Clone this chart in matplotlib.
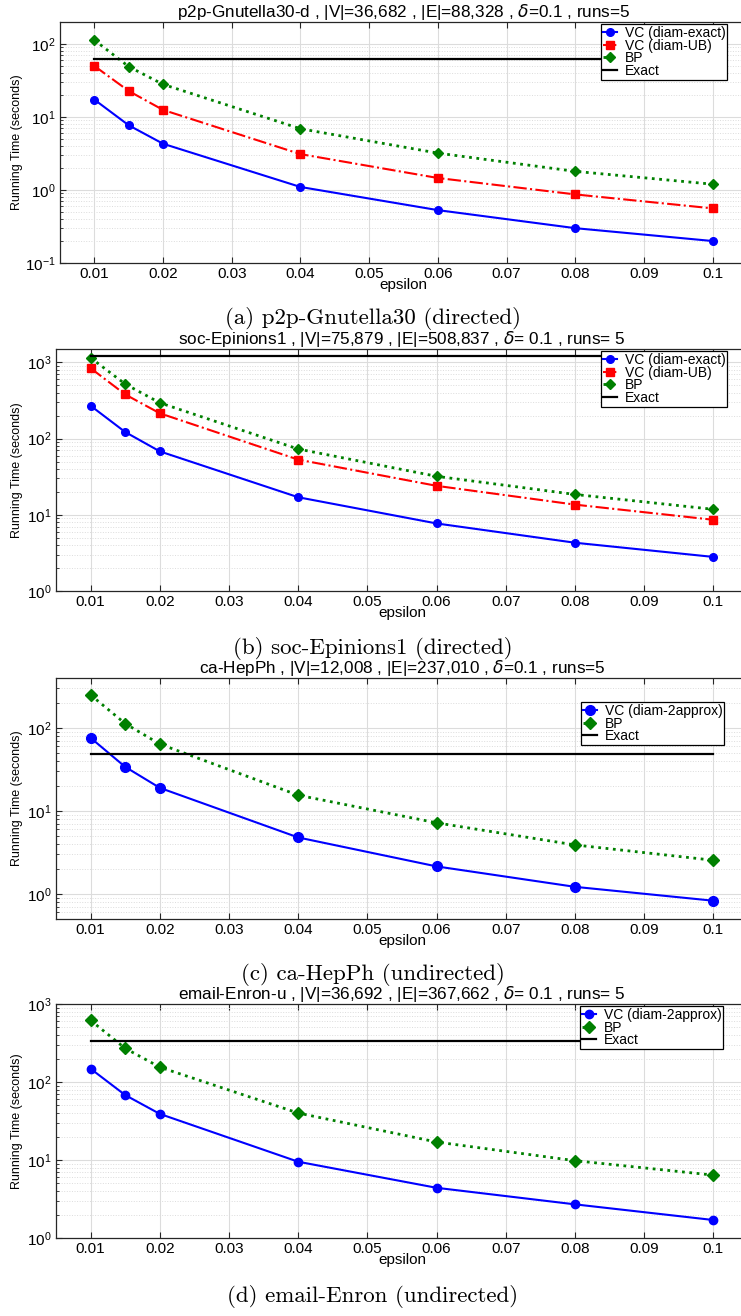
import matplotlib
matplotlib.use('Agg')
import matplotlib.pyplot as plt
from matplotlib.ticker import LogLocator, NullFormatter, FixedLocator, FixedFormatter

# ---------------- data ----------------
eps = [0.01, 0.015, 0.02, 0.04, 0.06, 0.08, 0.1]
xtick_vals = [0.01, 0.02, 0.03, 0.04, 0.05, 0.06, 0.07, 0.08, 0.09, 0.1]
xtick_labels = ['0.01', '0.02', '0.03', '0.04', '0.05', '0.06', '0.07', '0.08', '0.09', '0.1']

a_vc_exact = [17.3, 7.7, 4.3, 1.1, 0.53, 0.30, 0.20]
a_vc_ub = [50, 22.7, 12.5, 3.1, 1.46, 0.87, 0.56]
a_bp = [113, 49, 28, 6.9, 3.2, 1.8, 1.2]
a_exact = 62

b_vc_exact = [270, 122, 68, 17, 7.7, 4.3, 2.8]
b_vc_ub = [840, 380, 215, 53, 24, 13.6, 8.6]
b_bp = [1150, 520, 295, 73, 32, 18.5, 11.8]
b_exact = 1230

c_vc_2approx = [76, 34, 19, 4.8, 2.15, 1.22, 0.83]
c_bp = [250, 113, 64, 15.5, 7.2, 3.9, 2.55]
c_exact = 49

d_vc_2approx = [148, 68, 39, 9.5, 4.4, 2.7, 1.7]
d_bp = [617, 270, 155, 40, 17, 9.8, 6.4]
d_exact = 340

titles = [
    "p2p-Gnutella30-d , |V|=36,682 , |E|=88,328 , $\\delta$=0.1 , runs=5",
    "soc-Epinions1 , |V|=75,879 , |E|=508,837 , $\\delta$= 0.1 , runs= 5",
    "ca-HepPh , |V|=12,008 , |E|=237,010 , $\\delta$=0.1 , runs=5",
    "email-Enron-u , |V|=36,692 , |E|=367,662 , $\\delta$= 0.1 , runs= 5",
]
captions = [
    "(a) p2p-Gnutella30 (directed)",
    "(b) soc-Epinions1 (directed)",
    "(c) ca-HepPh (undirected)",
    "(d) email-Enron (undirected)",
]

# ---------------- style ----------------
plt.rcParams['font.family'] = ['Liberation Sans', 'DejaVu Sans']
plt.rcParams['mathtext.fontset'] = 'dejavusans'

W, H = 741, 1316
fig = plt.figure(figsize=(W / 100, H / 100), dpi=100)

BLUE = '#0000ff'
RED = '#ff0000'
GREEN = '#008000'
SPINE = '#262626'

# panel geometry in pixels: (left, right, top, bottom)
geom = [
    (60, 747, 22, 263),
    (56, 748, 349, 591),
    (56, 748, 678, 919),
    (56, 748, 1004, 1238),
]
ylims = [(0.1, 200), (1, 1500), (0.5, 400), (1, 1000)]
caption_y = [318, 649, 974, 1297]
legend_pos = [(601, 24), (601, 351), (581, 702), (580, 1006)]


def make_axes(i):
    l, r, t, b = geom[i]
    ax = fig.add_axes([l / W, 1 - b / H, (r - l) / W, (b - t) / H])
    ax.set_yscale('log')
    ax.set_xlim(0.005, 0.105)
    ax.set_ylim(*ylims[i])
    ax.xaxis.set_major_locator(FixedLocator(xtick_vals))
    ax.xaxis.set_major_formatter(FixedFormatter(xtick_labels))
    ax.yaxis.set_major_locator(LogLocator(base=10, numticks=10))
    ax.yaxis.set_minor_locator(LogLocator(base=10, subs=range(2, 10), numticks=10))
    ax.yaxis.set_minor_formatter(NullFormatter())
    ax.grid(True, which='major', color='#dcdcdc', lw=0.8, ls='-')
    ax.grid(True, which='minor', axis='y', color='#dcdcdc', lw=0.7, ls=':')
    ax.set_axisbelow(True)
    for s in ax.spines.values():
        s.set_color(SPINE)
        s.set_linewidth(0.9)
    ax.tick_params(which='both', direction='in', top=True, right=True,
                   color=SPINE, labelsize=11, pad=3)
    ax.tick_params(which='major', length=4)
    ax.tick_params(which='minor', length=2)
    ax.set_title(titles[i], fontsize=12.3, pad=3)
    ax.set_xlabel('epsilon', fontsize=11)
    ax.xaxis.label.set_va('center')
    ax.xaxis.set_label_coords(0.5, -22 / (b - t))
    ax.set_ylabel('Running Time (seconds)', fontsize=9)
    ax.yaxis.label.set_va('center')
    ax.yaxis.set_label_coords(-(l - 17) / (r - l), 0.5)
    fig.text(0.503, 1 - caption_y[i] / H, captions[i], family=['cmr10', 'DejaVu Serif'],
             fontsize=16.5, ha='center', va='center')
    return ax


def add_legend(ax, i):
    l, r, t, b = geom[i]
    lx, ly = legend_pos[i]
    leg = ax.legend(loc='upper left',
                    bbox_to_anchor=((lx - l) / (r - l), 1 - (ly - t) / (b - t)),
                    borderaxespad=0, fontsize=10, labelspacing=-0.1,
                    handlelength=1.0, handletextpad=0.55, borderpad=0.15,
                    fancybox=False, framealpha=1, edgecolor='black')
    leg.get_frame().set_linewidth(0.9)


# Panel (a)
ax = make_axes(0)
ax.plot(eps, a_vc_exact, '-', color=BLUE, lw=1.5, marker='o', ms=5.5, label='VC (diam-exact)')
ax.plot(eps, a_vc_ub, '-.', color=RED, lw=1.5, marker='s', ms=5.5, label='VC (diam-UB)')
ax.plot(eps, a_bp, ':', color=GREEN, lw=2, marker='D', ms=5.5, label='BP')
ax.plot([eps[0], eps[-1]], [a_exact, a_exact], '-', color='black', lw=1.6, label='Exact')
add_legend(ax, 0)

# Panel (b)
ax = make_axes(1)
ax.plot(eps, b_vc_exact, '-', color=BLUE, lw=1.5, marker='o', ms=5.5, label='VC (diam-exact)')
ax.plot(eps, b_vc_ub, '-.', color=RED, lw=1.5, marker='s', ms=5.5, label='VC (diam-UB)')
ax.plot(eps, b_bp, ':', color=GREEN, lw=2, marker='D', ms=5.5, label='BP')
ax.plot([eps[0], eps[-1]], [b_exact, b_exact], '-', color='black', lw=1.6, label='Exact')
add_legend(ax, 1)

# Panel (c)
ax = make_axes(2)
ax.plot(eps, c_vc_2approx, '-', color=BLUE, lw=1.5, marker='o', ms=7, label='VC (diam-2approx)')
ax.plot(eps, c_bp, ':', color=GREEN, lw=2, marker='D', ms=6.5, label='BP')
ax.plot([eps[0], eps[-1]], [c_exact, c_exact], '-', color='black', lw=1.6, label='Exact')
add_legend(ax, 2)

# Panel (d)
ax = make_axes(3)
ax.plot(eps, d_vc_2approx, '-', color=BLUE, lw=1.5, marker='o', ms=6, label='VC (diam-2approx)')
ax.plot(eps, d_bp, ':', color=GREEN, lw=2, marker='D', ms=6, label='BP')
ax.plot([eps[0], eps[-1]], [d_exact, d_exact], '-', color='black', lw=1.6, label='Exact')
add_legend(ax, 3)

fig.savefig('out.png', dpi=100)
